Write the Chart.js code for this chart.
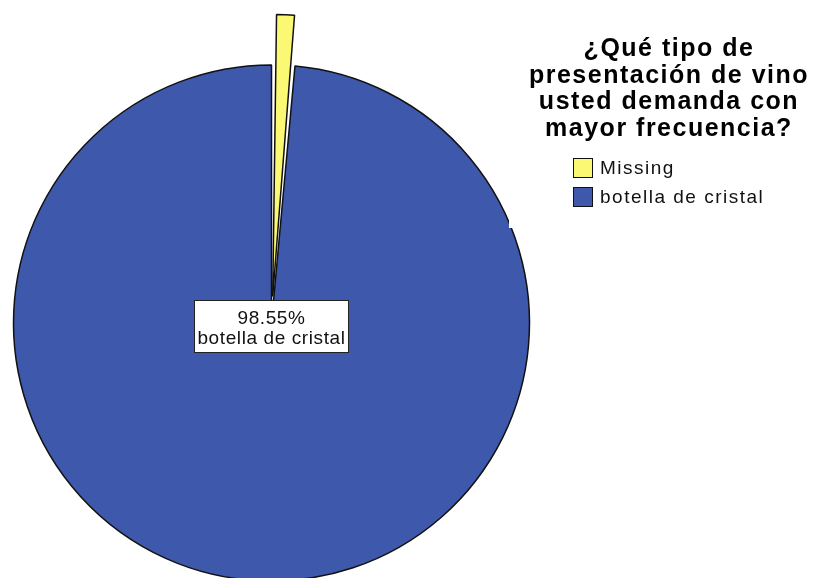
<!DOCTYPE html>
<html lang="es">
<head>
<meta charset="utf-8">
<title>Tipo de presentación de vino</title>
<script src="https://cdn.jsdelivr.net/npm/chart.js@4.4.1/dist/chart.umd.min.js"></script>
<style>
	html, body { margin: 0; padding: 0; background: #fff; overflow: hidden; width: 814px; height: 578px; }
	#pie { position: absolute; left: 0; top: 0; }
	#side { position: absolute; left: 509px; top: 0; width: 305px; height: 228px; background: #fff; }
	#title {
		position: absolute; left: 10px; top: 34px; width: 300px; text-align: center;
		font: bold 25px "Liberation Sans", Arial, sans-serif; line-height: 26.5px; letter-spacing: 1.5px; color: #000;
	}
	#legend {
		position: absolute; left: 64px; top: 153px;
		font: 19px "Liberation Sans", Arial, sans-serif; letter-spacing: 1.5px; color: #111;
	}
	.item { display: flex; align-items: center; height: 29px; }
	.swatch { width: 18px; height: 18px; border: 1px solid #111; margin-right: 7px; }
</style>
</head>
<body>
<canvas id="pie" width="814" height="646"></canvas>
<div id="side">
	<div id="title">¿Qué tipo de<br>presentación de vino<br>usted demanda con<br>mayor frecuencia?</div>
	<div id="legend"></div>
</div>
<script>
const categories = ['Missing', 'botella de cristal'];
const percentages = [1.45, 98.55];
const sliceColors = ['#fbf873', '#3e58ac'];
const sliceOffsets = [106, 0];
const labelledSlice = 1;

// legend built from the same arrays
const legend = document.getElementById('legend');
categories.forEach((name, i) => {
	const row = document.createElement('div');
	row.className = 'item';
	const swatch = document.createElement('span');
	swatch.className = 'swatch';
	swatch.style.background = sliceColors[i];
	const text = document.createElement('span');
	text.textContent = name;
	row.append(swatch, text);
	legend.appendChild(row);
});

const sliceLabel = {
	id: 'sliceLabel',
	afterDatasetsDraw(chart) {
		const arc = chart.getDatasetMeta(0).data[labelledSlice];
		if (!arc) {
			return;
		}
		const ctx = chart.ctx;
		const w = 155;
		const h = 53;
		const cx = arc.x;
		const cy = arc.y + 3.5;

		ctx.save();
		ctx.fillStyle = '#fff';
		ctx.strokeStyle = '#222';
		ctx.lineWidth = 1;
		ctx.fillRect(cx - w / 2, cy - h / 2, w, h);
		ctx.strokeRect(cx - w / 2 + 0.5, cy - h / 2 + 0.5, w - 1, h - 1);

		ctx.fillStyle = '#111';
		ctx.font = '19px "Liberation Sans", Arial, sans-serif';
		ctx.letterSpacing = '0.6px';
		ctx.textAlign = 'center';
		ctx.textBaseline = 'middle';
		ctx.fillText(`${percentages[labelledSlice].toFixed(2)}%`, cx, cy - 8);
		ctx.fillText(categories[labelledSlice], cx, cy + 12);
		ctx.restore();
	},
};

new Chart(document.getElementById('pie'), {
	type: 'pie',
	data: {
		labels: categories,
		datasets: [{
			data: percentages,
			backgroundColor: sliceColors,
			borderColor: '#111',
			borderWidth: 1.5,
			offset: sliceOffsets,
		}],
	},
	options: {
		responsive: false,
		animation: false,
		events: [],
		radius: 258,
		layout: { padding: { right: 271 } },
		plugins: {
			legend: { display: false },
			tooltip: { enabled: false },
		},
	},
	plugins: [sliceLabel],
});
</script>
</body>
</html>
